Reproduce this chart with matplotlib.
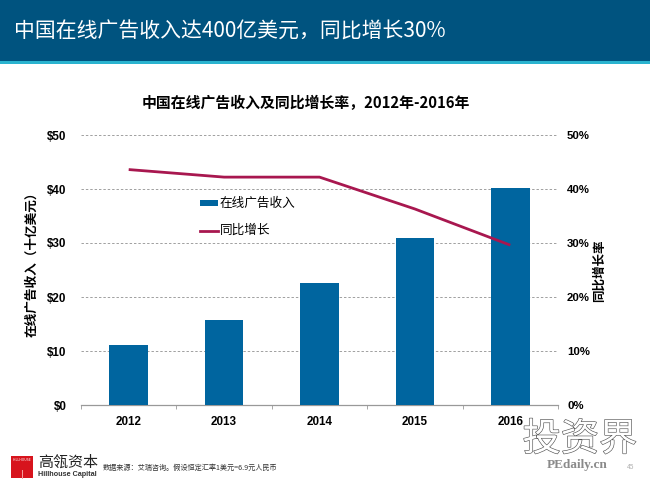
import matplotlib
matplotlib.use("Agg")
import matplotlib.pyplot as plt
from matplotlib.patches import Rectangle
from matplotlib.lines import Line2D
import matplotlib.patheffects as pe

plt.rcParams['font.family'] = ['Noto Sans CJK SC', 'DejaVu Sans']
ARIAL = ['Liberation Sans', 'DejaVu Sans']

years = ['2012', '2013', '2014', '2015', '2016']
revenue = [11.1, 15.8, 22.6, 30.9, 40.2]
growth = [43.6, 42.2, 42.2, 36.3, 29.6]
left_ticks = [0, 10, 20, 30, 40, 50]
right_ticks = [0, 10, 20, 30, 40, 50]

W, H = 650, 487
BAR = '#00659f'
LINE = '#a8174f'
fig = plt.figure(figsize=(W / 100, H / 100), dpi=100, facecolor='white')

def fx(x): return x / W
def fy(y): return 1 - y / H

# header band
fig.add_artist(Rectangle((0, fy(61)), 1, 61 / H, transform=fig.transFigure, fc='#00537f', ec='none'))
fig.add_artist(Rectangle((0, fy(64)), 1, 3 / H, transform=fig.transFigure, fc='#2ab3cf', ec='none'))
fig.text(fx(14), fy(32), '中国在线广告收入达400亿美元，同比增长30%', color='white', fontsize=15.0,
         va='center', ha='left')
fig.text(fx(306), fy(103), '中国在线广告收入及同比增长率，2012年-2016年', color='black', fontsize=10.7,
         fontweight='bold', va='center', ha='center')

ax = fig.add_axes([fx(81), fy(405), (558 - 81) / W, 270 / H])
x = list(range(len(years)))
ax.bar(x, revenue, width=0.405, color=BAR, zorder=3)
ax.set_xlim(-0.5, 4.5)
ax.set_ylim(0, 50)
ax.set_yticks(left_ticks)
ax.set_yticklabels([f'${v}' for v in left_ticks], fontsize=8.4, fontweight='bold', family=ARIAL)
ax.set_xticks(x)
ax.set_xticklabels(years, fontsize=8.4, fontweight='bold', family=ARIAL)
ax.set_xticks([i - 0.5 for i in range(6)], minor=True)
ax.tick_params(axis='x', which='major', length=0, pad=8)
ax.tick_params(axis='x', which='minor', length=3, direction='out', color='#999999')
ax.tick_params(axis='y', length=0, pad=10.5)
ax.yaxis.grid(True, color='#a0a0a0', linestyle=(0, (2.5, 2)), linewidth=0.7, zorder=0)
ax.set_axisbelow(True)
for s in ['top', 'left', 'right']:
    ax.spines[s].set_visible(False)
ax.spines['bottom'].set_color('#999999')
ax.spines['bottom'].set_linewidth(0.9)
fig.text(fx(32), fy(261), '在线广告收入（十亿美元）', rotation=90, fontsize=9.1, fontweight='bold',
         va='center', ha='center')

ax2 = ax.twinx()
ax2.plot(x, growth, color=LINE, linewidth=2.0, zorder=4, solid_capstyle='butt')
ax2.set_ylim(0, 50)
ax2.set_yticks(right_ticks)
ax2.set_yticklabels([f'{v}%' for v in right_ticks], fontsize=8.2, fontweight='bold', family=ARIAL)
ax2.tick_params(axis='y', length=0, pad=6.5)
for s in ['top', 'left', 'bottom', 'right']:
    ax2.spines[s].set_visible(False)
fig.text(fx(599), fy(271), '同比增长率', rotation=90, fontsize=9, fontweight='bold', va='center', ha='center')

# legend
fig.add_artist(Rectangle((fx(200), fy(206)), 18 / W, 5.5 / H, transform=fig.transFigure, fc=BAR, ec='none'))
fig.add_artist(Line2D([fx(200), fx(218)], [fy(231), fy(231)], transform=fig.transFigure, color=LINE, lw=2))
fig.text(fx(220), fy(203), '在线广告收入', fontsize=9.1, fontweight='medium', va='center', ha='left')
fig.text(fx(220), fy(230.5), '同比增长', fontsize=9.1, fontweight='medium', va='center', ha='left')

# footer logo
fig.add_artist(Rectangle((fx(11), fy(478)), 22 / W, 22 / H, transform=fig.transFigure, fc='#d7141d', ec='none'))
fig.text(fx(22), fy(460), 'HILLHOUSE', color='white', fontsize=2.4, va='center', ha='center')
fig.add_artist(Line2D([fx(22), fx(22)], [fy(478), fy(470)], transform=fig.transFigure, color='#f4a0a0', lw=0.7))
fig.text(fx(38), fy(463), '高瓴资本', fontsize=10.8, color='#222222', va='center', ha='left')
fig.text(fx(38), fy(475), 'Hillhouse Capital', fontsize=5.2, fontweight='bold', color='#333333', va='center',
         ha='left', family=ARIAL)
fig.text(fx(103), fy(468), '数据来源：艾瑞咨询。假设恒定汇率1美元=6.9元人民币', fontsize=5.15, color='#333333',
         va='center', ha='left')

# watermark
fig.text(fx(580), fy(440), '投资界', fontsize=27.5, color='white', va='center', ha='center',
         path_effects=[pe.withStroke(linewidth=0.9, foreground='#555555')], zorder=10)
fig.text(fx(577), fy(465), 'PEdaily.cn', fontsize=9.5, fontweight='bold', color='#8a8a8a', va='center', ha='center',
         family=['Liberation Serif', 'DejaVu Serif'], zorder=11)
fig.text(fx(631), fy(467), '45', fontsize=4.8, color='#b0b0b0', va='center', ha='center', zorder=11)

fig.savefig('out.png', dpi=100, facecolor='white')
